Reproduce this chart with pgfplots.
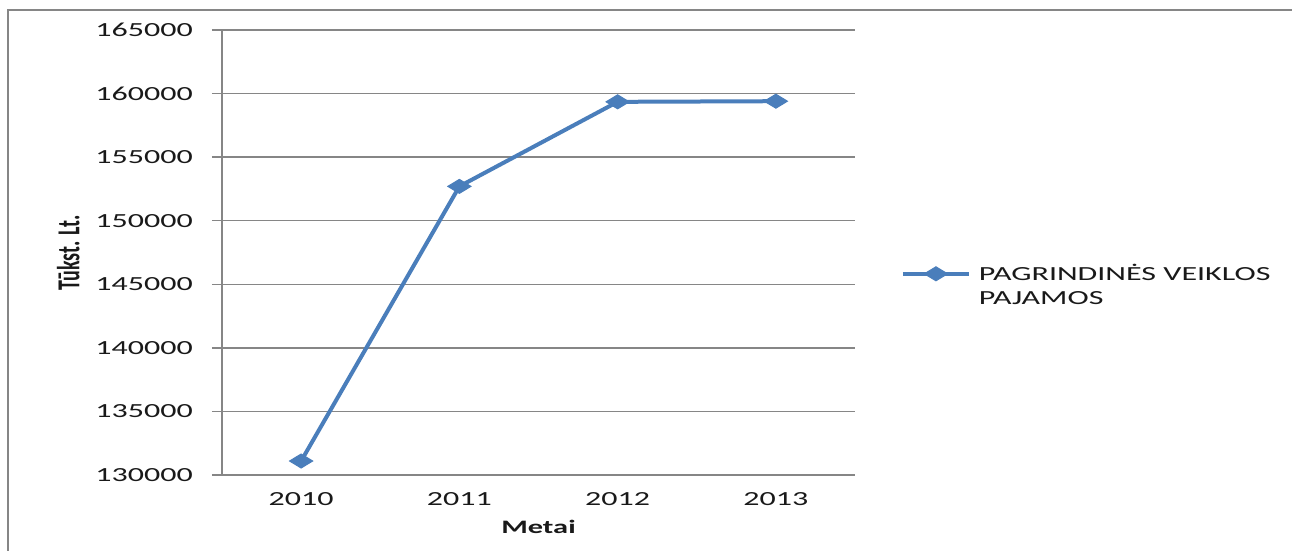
\documentclass[border=0pt]{standalone}
\usepackage{pgfplots}
\pgfplotsset{compat=1.18}
\usepackage{fontspec}
\setmainfont{Carlito}[FakeStretch=1.6]
\newfontfamily\ylabfont{Carlito}
\definecolor{serblue}{RGB}{74,126,187}
\definecolor{gridgray}{RGB}{134,134,134}
\definecolor{txt}{RGB}{25,25,25}

\pgfplotstableread{
x y
0 131100
1 152700
2 159350
3 159400
}\revenue

\begin{document}
\begin{tikzpicture}[x=1pt,y=1pt]
\path[use as bounding box] (0,0) rectangle (1292,551);
\draw[gridgray, line width=2.5pt] (8,0) -- (8,541) -- (1292,541);
\begin{axis}[
  at={(222pt,76pt)}, anchor=south west,
  width=633pt, height=445pt, scale only axis,
  xmin=-0.5, xmax=3.5, ymin=130000, ymax=165000,
  xtick={0,1,2,3}, xticklabels={2010,2011,2012,2013},
  ytick={130000,135000,140000,145000,150000,155000,160000,165000},
  yticklabels={130000,135000,140000,145000,150000,155000,160000,165000},
  scaled y ticks=false,
  axis lines*=left,
  axis line style={gridgray, line width=1.5pt},
  ymajorgrids, grid style={gridgray, line width=1.5pt},
  tick align=outside, major tick length=10pt,
  ytick style={gridgray, line width=1.5pt},
  xtick style={draw=none},
  tick label style={font=\fontsize{20}{23}\selectfont, text=txt},
  yticklabel style={anchor=east, inner sep=0pt, xshift=-19pt},
  xticklabel style={anchor=north, inner sep=0pt, yshift=-7pt},
  xlabel={\bfseries Metai},
  xlabel style={at={(axis description cs:0.5,-0.117)}, anchor=center, font=\fontsize{19}{22}\selectfont, text=txt},
  ylabel={\ylabfont\bfseries\scalebox{1}[1.6]{Tūkst. Lt.}},
  ylabel style={at={(axis description cs:-0.243,0.5)}, anchor=center, font=\fontsize{20}{22}\selectfont, text=txt},
  legend style={at={(axis description cs:1.0726,0.4742)}, anchor=north west,
    draw=none, fill=none, inner sep=0pt, outer sep=0pt, column sep=8pt,
    cells={anchor=base west},
    nodes={inner sep=0pt, text=txt},
    font=\fontsize{20}{24}\selectfont},
  legend image code/.code={
    \draw[mark repeat=2, mark phase=2, #1] plot coordinates {(0pt,6.5pt) (33pt,6.5pt) (66pt,6.5pt)};
  },
]
\addplot[serblue, line width=4pt, mark=diamond*, mark size=7pt,
  mark options={xscale=2.2, solid, line width=1pt, fill=serblue}]
  table[x=x, y=y] {\revenue};
\addlegendentry{\vtop{\hbox{PAGRINDINĖS VEIKLOS}\hbox{PAJAMOS}}}
\end{axis}
\end{tikzpicture}
\end{document}
